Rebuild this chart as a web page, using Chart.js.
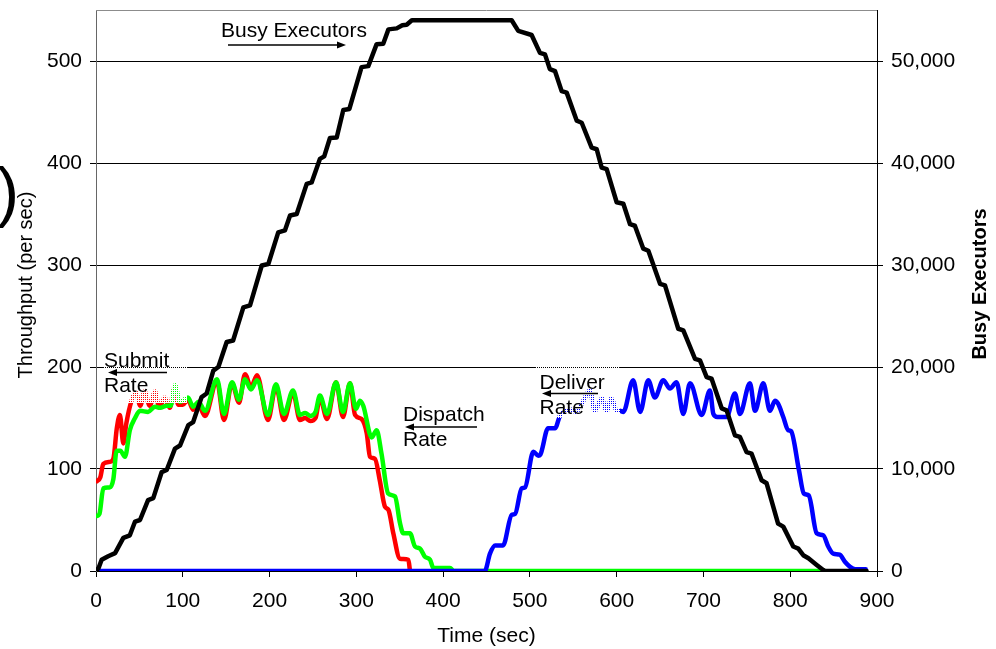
<!DOCTYPE html>
<html>
<head>
<meta charset="utf-8">
<script src="https://cdn.jsdelivr.net/npm/chart.js@4.4.1/dist/chart.umd.min.js"></script>
<style>
  html, body { margin: 0; padding: 0; background: #fff; }
  canvas { display: block; }
</style>
</head>
<body>
<canvas id="chart" width="996" height="649"></canvas>
<script>
// Busy executors (right axis)
const execTime = [0, 3, 6.5, 14, 22, 31.5, 39, 45, 50.7, 60, 66, 75.7, 81.5, 91, 96.8, 106.4, 112, 121.7, 127.5,
  135.2, 141, 150.6, 158, 169.8, 177.5, 191, 198.6, 210, 217.8, 223.6, 231.3, 242.8, 248.5, 258, 263, 269.6, 277.4,
  285, 292, 306, 313.8, 323.4, 331, 337, 346.5, 353, 358, 364, 479, 486.6, 502, 511.6, 517.4, 523, 529, 536.6, 542.4,
  554, 559.7, 571.2, 577, 582.7, 588.5, 600, 607.7, 615.4, 621, 630.7, 636.5, 650, 655.7, 671, 676.8, 690.3, 696,
  703.7, 709.4, 721, 726.7, 736.3, 742, 749.7, 755.5, 767, 772.8, 786, 792, 803.5, 809.3, 815, 821, 830.5, 838, 840, 888];
const execCount = [0, 300, 1100, 1450, 1750, 3250, 3500, 4850, 5000, 6950, 7150, 9700, 9900, 12000, 12300, 14300, 14600, 17050, 17400,
  19650, 20000, 22450, 22600, 25850, 26050, 29950, 30100, 33200, 33400, 34850, 35000, 37950, 38100, 40400, 40650, 42450, 42500,
  45200, 45300, 49400, 49500, 51650, 51700, 53100, 53200, 53500, 53550, 54000, 54000, 52950, 52550, 50800, 50650, 49200, 49000, 47050, 46900,
  44150, 43950, 41500, 41350, 39550, 39400, 36150, 36000, 34000, 33850, 31600, 31400, 28150, 28000, 23750, 23600, 20800, 20650,
  19000, 18850, 15950, 15750, 13300, 13150, 11650, 11500, 8900, 8600, 4650, 4350, 2400, 2200, 1550, 1250, 600, 100, 0, 0];

// Submit rate (per sec)
const submitTime = [1, 5, 8.4, 16, 20, 24, 27.6, 31.5, 35, 41, 46, 51, 56, 62, 68, 73, 79, 85, 90, 95, 100, 106, 112, 118,
  125.6, 139.4, 147.5, 156.7, 164.8, 171.7, 178.6, 185.5, 198.2, 207.4, 216.6, 227, 235, 241, 247, 253, 258, 266.2, 276.6,
  284.6, 292.7, 298.5, 306, 312, 315.7, 321.5, 327, 333, 337, 342.6, 350.3, 360, 361.8];
const submitRate = [88, 92, 105, 107, 110, 140, 153, 125, 145, 167, 175, 162, 176, 162, 176, 160, 170, 160, 178, 163, 163, 168, 158, 163,
  152, 186, 148, 184, 165, 193, 180, 192, 148, 181, 148, 175, 148, 150, 147, 150, 170, 149, 185,
  151, 184, 153, 149, 135, 112, 110, 89, 63, 60, 37, 12, 11, 0];

// Dispatch rate (per sec)
const dispatchTime = [1, 4, 8.4, 16, 20, 23.8, 28, 33.4, 39, 45, 50.7, 60, 68, 74, 81.4, 86, 91, 96.8, 106, 112, 118,
  125.6, 139.4, 147.5, 156.7, 164.8, 171.7, 178.6, 185.5, 198.2, 207.4, 216.6, 227, 235, 241, 247, 253, 258, 266.2, 276.6,
  284.6, 292.7, 299.6, 304.2, 308, 317.7, 323.4, 329, 336.7, 344.6, 350.3, 354, 361.8, 367.6, 373.4, 379, 385, 388.7, 408, 412, 840];
const dispatchRate = [54, 56, 81, 82, 90, 118, 118, 112, 138, 150, 157, 156, 161, 160, 162, 162, 182, 166, 170, 161, 166,
  157, 188, 154, 185, 168, 188, 178, 187, 153, 183, 154, 177, 153, 155, 152, 156, 172, 154, 185,
  156, 184, 159, 167, 162, 131, 138, 115, 76, 73, 47, 37, 37, 24, 22, 14, 11, 3, 3, 0, 0];

// Deliver rate (per sec)
const deliverTime = [0, 448, 454, 460, 469, 479, 483, 490.5, 494.4, 504, 509.6, 512, 521, 529, 535, 542, 548, 553, 561.6, 569,
  575, 582.7, 588.4, 594, 600, 603.8, 607.7, 619, 627, 636.4, 644, 653.7, 661.4, 669, 676.8, 684.5, 698, 707.5, 711.4,
  716, 726.7, 736.3, 742, 753.6, 759.4, 769, 776.7, 782.4, 786, 792, 797.7, 801, 810, 815.7, 821.4, 830.5, 838, 843.8,
  849.6, 857, 863, 869, 875, 887];
const deliverRate = [0, 0, 17, 25, 25, 55, 56, 81, 82, 117, 113, 114, 140, 140, 153, 157, 158, 156, 167, 177,
  157, 169, 157, 169, 157, 157, 156, 187, 156, 187, 170, 187, 179, 185, 154, 184, 153, 177, 154,
  151, 151, 174, 154, 184, 157, 184, 157, 167, 164, 151, 138, 137, 99, 76, 74, 37, 35, 24,
  17, 16, 9, 4, 1.6, 1.6];

const timeTicks = [0, 100, 200, 300, 400, 500, 600, 700, 800, 900];
const rateTicks = [0, 100, 200, 300, 400, 500];
const execTicks = [0, 10000, 20000, 30000, 40000, 50000];

const FONT = 'Liberation Sans, Arial, sans-serif';
const pts = (ts, vs) => ts.map((t, i) => ({ x: t, y: vs[i] }));

// mostly-white dotted fill used behind the callout text
const hatchCanvas = document.createElement('canvas');
hatchCanvas.width = 2; hatchCanvas.height = 2;
(() => {
  const g = hatchCanvas.getContext('2d');
  g.fillStyle = '#fff';
  g.fillRect(0, 0, 2, 2);
  g.clearRect(1, 1, 1, 1);
})();

// callouts: text lines, optional hatched box, arrow
const callouts = [
  { lines: ['Busy Executors'], x: 221, y: 37, arrow: [228, 45, 346, 45] },
  { lines: ['Submit', 'Rate'], x: 104, y: 366.5, arrow: [167, 372.5, 108, 372.5], box: [103, 352, 84, 51] },
  { lines: ['Dispatch', 'Rate'], x: 403, y: 421, arrow: [477, 427, 405, 427], box: [400, 400, 87, 52] },
  { lines: ['Deliver', 'Rate'], x: 539.5, y: 389, arrow: [598, 393.5, 542, 393.5], box: [535, 362, 85, 56] }
];

function drawArrow(ctx, x1, y1, x2, y2) {
  ctx.save();
  ctx.strokeStyle = '#000';
  ctx.fillStyle = '#000';
  ctx.lineWidth = 1.5;
  const dir = Math.sign(x2 - x1);
  const head = 9;
  ctx.beginPath();
  ctx.moveTo(x1, y1);
  ctx.lineTo(x2 - dir * head * 0.6, y2);
  ctx.stroke();
  ctx.beginPath();
  ctx.moveTo(x2, y2);
  ctx.lineTo(x2 - dir * head, y2 - 3.5);
  ctx.lineTo(x2 - dir * head, y2 + 3.5);
  ctx.closePath();
  ctx.fill();
  ctx.restore();
}

const decorations = {
  id: 'decorations',
  afterDatasetsDraw(chart) {
    const ctx = chart.ctx;
    const area = chart.chartArea;
    ctx.save();
    // frame top edge
    ctx.strokeStyle = '#8c8c8c';
    ctx.lineWidth = 1;
    ctx.beginPath();
    ctx.moveTo(area.left, Math.round(area.top) + 0.5);
    ctx.lineTo(area.right, Math.round(area.top) + 0.5);
    ctx.stroke();

    const pattern = ctx.createPattern(hatchCanvas, 'repeat');
    callouts.forEach(c => {
      if (c.box) {
        ctx.fillStyle = pattern;
        ctx.fillRect(c.box[0], c.box[1], c.box[2], c.box[3]);
      }
      ctx.fillStyle = '#000';
      ctx.font = '21px ' + FONT;
      ctx.textAlign = 'left';
      ctx.textBaseline = 'alphabetic';
      c.lines.forEach((line, i) => ctx.fillText(line, c.x, c.y + i * 25));
      const a = c.arrow;
      drawArrow(ctx, a[0], a[1], a[2], a[3]);
    });
    ctx.restore();
  },
  afterDraw(chart) {
    const ctx = chart.ctx;
    const area = chart.chartArea;
    ctx.save();
    ctx.fillStyle = '#000';
    ctx.textAlign = 'center';
    ctx.textBaseline = 'middle';
    // axis titles
    ctx.font = '21px ' + FONT;
    ctx.fillText('Time (sec)', (area.left + area.right) / 2, 636);
    ctx.save();
    ctx.translate(26, 285);
    ctx.rotate(-Math.PI / 2);
    ctx.font = '20px ' + FONT;
    ctx.fillText('Throughput (per sec)', 0, 0);
    ctx.restore();
    ctx.save();
    ctx.translate(980, 284);
    ctx.rotate(-Math.PI / 2);
    ctx.font = 'bold 20px ' + FONT;
    ctx.fillText('Busy Executors', 0, 0);
    ctx.restore();
    // cut-off parenthesis at the left margin
    ctx.textAlign = 'left';
    ctx.textBaseline = 'alphabetic';
    ctx.font = '66px ' + FONT;
    ctx.fillText(')', -3, 214);
    ctx.restore();
  }
};

const lineStyle = {
  pointRadius: 0,
  borderWidth: 4.5,
  borderJoinStyle: 'round',
  borderCapStyle: 'round',
  fill: false
};

new Chart(document.getElementById('chart'), {
  type: 'line',
  data: {
    datasets: [
      Object.assign({ label: 'Busy Executors', data: pts(execTime, execCount), yAxisID: 'yExec',
        borderColor: '#000000', tension: 0, order: 1 }, lineStyle),
      Object.assign({ label: 'Deliver Rate', data: pts(deliverTime, deliverRate), yAxisID: 'yRate',
        borderColor: '#0000ff', cubicInterpolationMode: 'monotone', tension: 0.4, order: 2 }, lineStyle),
      Object.assign({ label: 'Dispatch Rate', data: pts(dispatchTime, dispatchRate), yAxisID: 'yRate',
        borderColor: '#00ff00', cubicInterpolationMode: 'monotone', tension: 0.4, order: 3 }, lineStyle),
      Object.assign({ label: 'Submit Rate', data: pts(submitTime, submitRate), yAxisID: 'yRate',
        borderColor: '#ff0000', cubicInterpolationMode: 'monotone', tension: 0.4, order: 4 }, lineStyle)
    ]
  },
  options: {
    responsive: false,
    animation: false,
    layout: { padding: { top: 10, left: 0, right: 0, bottom: 0 } },
    plugins: { legend: { display: false }, tooltip: { enabled: false } },
    scales: {
      x: {
        type: 'linear',
        min: 0, max: 900,
        afterBuildTicks: s => { s.ticks = timeTicks.map(v => ({ value: v })); },
        afterFit: s => { s.height = 78; },
        ticks: { color: '#000', font: { family: FONT, size: 21 }, padding: 12, maxRotation: 0 },
        grid: { drawOnChartArea: false, drawTicks: true, tickLength: 6, color: '#000' },
        border: { color: '#000', width: 1 }
      },
      yRate: {
        type: 'linear',
        position: 'left',
        min: 0, max: 550,
        afterBuildTicks: s => { s.ticks = rateTicks.map(v => ({ value: v })); },
        afterFit: s => { s.width = 96; s.paddingTop = 0; s.paddingBottom = 0; },
        ticks: { color: '#000', font: { family: FONT, size: 21 }, padding: 8 },
        grid: { color: '#000', lineWidth: 1, tickLength: 6 },
        border: { color: '#666', width: 1 }
      },
      yExec: {
        type: 'linear',
        position: 'right',
        min: 0, max: 55000,
        afterBuildTicks: s => { s.ticks = execTicks.map(v => ({ value: v })); },
        afterFit: s => { s.width = 119; s.paddingTop = 0; s.paddingBottom = 0; },
        ticks: { color: '#000', font: { family: FONT, size: 21 }, padding: 8,
          callback: v => v.toLocaleString('en-US') },
        grid: { drawOnChartArea: false, tickLength: 6, color: '#000' },
        border: { color: '#000', width: 1 }
      }
    }
  },
  plugins: [decorations]
});
</script>
</body>
</html>
